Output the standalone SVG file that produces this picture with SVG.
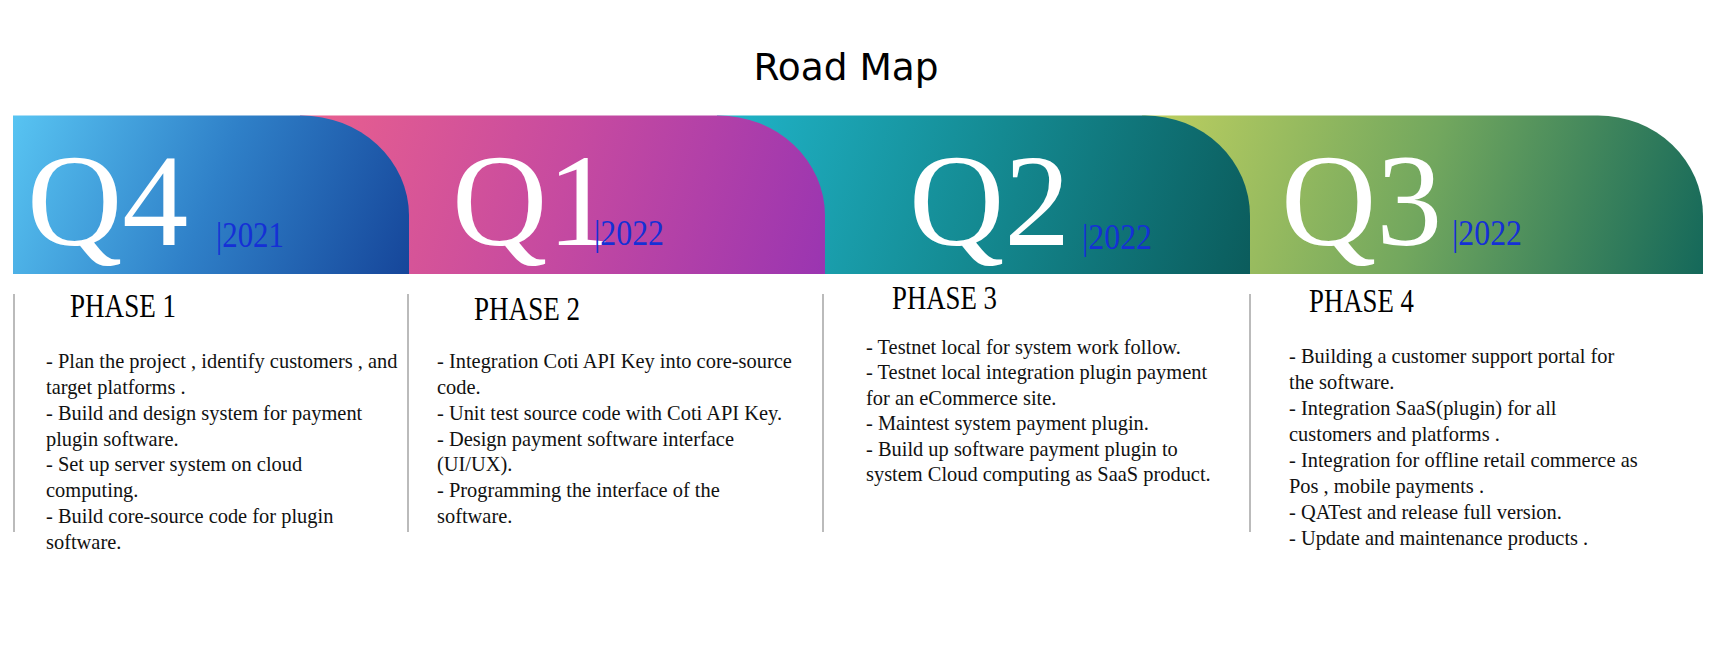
<svg xmlns="http://www.w3.org/2000/svg" width="1720" height="656" viewBox="0 0 1720 656">
  <style>
    .title { font-family: "DejaVu Sans", Verdana, sans-serif; font-size: 37.5px; fill: #000; }
    .q { font-family: "Liberation Serif", "Times New Roman", serif; font-size: 132px; fill: #fff; }
    .yr { font-family: "Liberation Serif", "Times New Roman", serif; font-size: 35px; fill: #1530d6; }
    .ph { font-family: "Liberation Serif", "Times New Roman", serif; font-size: 34px; fill: #000; }
    .body { font-family: "Liberation Serif", "Times New Roman", serif; font-size: 21.5px; fill: #111; }
    .div { stroke: #aaaaaa; stroke-width: 1.6; fill: none; }
  </style>
  <defs>
    <linearGradient id="gq4" gradientUnits="userSpaceOnUse" x1="13" y1="115" x2="409" y2="274">
      <stop offset="0" stop-color="#58c4f2"/>
      <stop offset="0.5" stop-color="#2f80c8"/>
      <stop offset="1" stop-color="#16469a"/>
    </linearGradient>
    <linearGradient id="gq1" gradientUnits="userSpaceOnUse" x1="300" y1="115" x2="825" y2="274">
      <stop offset="0" stop-color="#e9608e"/>
      <stop offset="0.5" stop-color="#c64aa0"/>
      <stop offset="1" stop-color="#9a35b1"/>
    </linearGradient>
    <linearGradient id="gq2" gradientUnits="userSpaceOnUse" x1="717" y1="115" x2="1250" y2="274">
      <stop offset="0" stop-color="#20b4c9"/>
      <stop offset="0.5" stop-color="#148a92"/>
      <stop offset="1" stop-color="#0b5c5c"/>
    </linearGradient>
    <linearGradient id="gq3" gradientUnits="userSpaceOnUse" x1="1142" y1="115" x2="1703" y2="274">
      <stop offset="0" stop-color="#bfd060"/>
      <stop offset="0.5" stop-color="#72a75e"/>
      <stop offset="1" stop-color="#14685a"/>
    </linearGradient>
  </defs>

  <g id="title">
    <text class="title" x="846" y="80" text-anchor="middle">Road Map</text>
  </g>

  <g id="segment-q3">
    <path d="M1142,115.5 H1598 A105,100 0 0 1 1703,215.5 V274 H1142 Z" fill="url(#gq3)"/>
    <text class="q" x="1281" y="245">Q3</text>
    <text class="yr" x="1452" y="245" textLength="70" lengthAdjust="spacingAndGlyphs">|2022</text>
  </g>
  <g id="segment-q2">
    <path d="M717,115.5 H1145 A105,100 0 0 1 1250,215.5 V274 H717 Z" fill="url(#gq2)"/>
    <text class="q" x="909" y="245">Q2</text>
    <text class="yr" x="1082" y="249" textLength="70" lengthAdjust="spacingAndGlyphs">|2022</text>
  </g>
  <g id="segment-q1">
    <path d="M300,115.5 H718 A107,100 0 0 1 825,215.5 V274 H300 Z" fill="url(#gq1)"/>
    <text class="q" x="452" y="245">Q1</text>
    <text class="yr" x="594" y="245" textLength="70" lengthAdjust="spacingAndGlyphs">|2022</text>
  </g>
  <g id="segment-q4">
    <path d="M13,115.5 H301 A108,100 0 0 1 409,215.5 V274 H13 Z" fill="url(#gq4)"/>
    <text class="q" x="27" y="245">Q4</text>
    <text class="yr" x="216" y="247" textLength="68" lengthAdjust="spacingAndGlyphs">|2021</text>
  </g>

  <g id="dividers">
    <line class="div" x1="14" y1="294" x2="14" y2="532"/>
    <line class="div" x1="408" y1="294" x2="408" y2="532"/>
    <line class="div" x1="823" y1="294" x2="823" y2="532"/>
    <line class="div" x1="1250" y1="294" x2="1250" y2="532"/>
  </g>

  <g id="phase-1">
    <text class="ph" x="70" y="317" textLength="106" lengthAdjust="spacingAndGlyphs">PHASE 1</text>
    <g transform="translate(46 0) scale(0.95 1)">
      <text class="body" x="0" y="368">- Plan the project , identify customers , and</text>
      <text class="body" x="0" y="394">target platforms .</text>
      <text class="body" x="0" y="420">- Build and design system for payment</text>
      <text class="body" x="0" y="446">plugin software.</text>
      <text class="body" x="0" y="471">- Set up server system on cloud</text>
      <text class="body" x="0" y="497">computing.</text>
      <text class="body" x="0" y="523">- Build core-source code for plugin</text>
      <text class="body" x="0" y="549">software.</text>
    </g>
  </g>

  <g id="phase-2">
    <text class="ph" x="474" y="320" textLength="106" lengthAdjust="spacingAndGlyphs">PHASE 2</text>
    <g transform="translate(437 0) scale(0.95 1)">
      <text class="body" x="0" y="368">- Integration Coti API Key into core-source</text>
      <text class="body" x="0" y="394">code.</text>
      <text class="body" x="0" y="420">- Unit test source code with Coti API Key.</text>
      <text class="body" x="0" y="446">- Design payment software interface</text>
      <text class="body" x="0" y="471">(UI/UX).</text>
      <text class="body" x="0" y="497">- Programming the interface of the</text>
      <text class="body" x="0" y="523">software.</text>
    </g>
  </g>

  <g id="phase-3">
    <text class="ph" x="892" y="309" textLength="105" lengthAdjust="spacingAndGlyphs">PHASE 3</text>
    <g transform="translate(866 0) scale(0.95 1)">
      <text class="body" x="0" y="354">- Testnet local for system work follow.</text>
      <text class="body" x="0" y="379.5">- Testnet local integration plugin payment</text>
      <text class="body" x="0" y="405">for an eCommerce site.</text>
      <text class="body" x="0" y="430.5">- Maintest system payment plugin.</text>
      <text class="body" x="0" y="456">- Build up software payment plugin to</text>
      <text class="body" x="0" y="481.5">system Cloud computing as SaaS product.</text>
    </g>
  </g>

  <g id="phase-4">
    <text class="ph" x="1309" y="312" textLength="105" lengthAdjust="spacingAndGlyphs">PHASE 4</text>
    <g transform="translate(1289 0) scale(0.95 1)">
      <text class="body" x="0" y="363">- Building a customer support portal for</text>
      <text class="body" x="0" y="389">the software.</text>
      <text class="body" x="0" y="415">- Integration SaaS(plugin) for all</text>
      <text class="body" x="0" y="441">customers and platforms .</text>
      <text class="body" x="0" y="467">- Integration for offline retail commerce as</text>
      <text class="body" x="0" y="493">Pos , mobile payments .</text>
      <text class="body" x="0" y="519">- QATest and release full version.</text>
      <text class="body" x="0" y="545">- Update and maintenance products .</text>
    </g>
  </g>
</svg>
